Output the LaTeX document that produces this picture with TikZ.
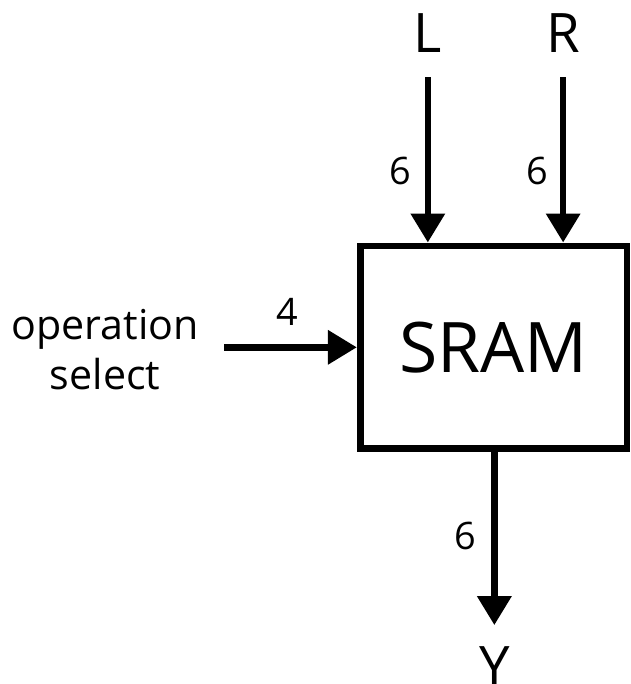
\documentclass[tikz,border=0pt]{standalone}
\usepackage{fontspec}
\setmainfont{Open Sans}
\usetikzlibrary{arrows.meta,positioning}

\begin{document}
\begin{tikzpicture}[>={Triangle[length=21.75pt,width=24.75pt]}, line width=5pt, every node/.style={inner sep=0pt},
  busw/.style={font=\fontsize{28.5}{37.5}\selectfont},
  port/.style={font=\fontsize{41}{49}\selectfont,anchor=base}]
  \useasboundingbox (0,0) rectangle (16.669,-18.098);
  \node[draw,minimum width=7.06cm,minimum height=5.37cm,font=\fontsize{52.5}{63}\selectfont] (sram) at (13.06,-9.19) {SRAM};
  \node[port] (L) at (11.32,-1.376) {L};
  \node[port] (R) at (14.90,-1.376) {R};
  \node[port] (Y) at (13.08,-18.15) {Y};
  \node[align=center,font=\fontsize{31}{37.5}\selectfont] (opsel) at (2.78,-9.25) {operation\\select};
  \coordinate (Lin) at (11.32,-2.04);
  \coordinate (Rin) at (14.90,-2.04);
  \coordinate (opin) at (5.93,-9.19);
  \coordinate (Yout) at (13.08,-16.54);
  \draw[->] (Lin) -- (Lin |- sram.north);
  \draw[->] (Rin) -- (Rin |- sram.north);
  \draw[->] (opin) -- (sram.west);
  \draw[->] (Yout |- sram.south) -- (Yout);
  \node[busw] (wL) at (10.58,-4.52) {6};
  \node[busw] (wR) at (14.21,-4.52) {6};
  \node[busw] (wop) at (7.59,-8.25) {4};
  \node[busw] (wY) at (12.30,-14.18) {6};
\end{tikzpicture}
\end{document}
